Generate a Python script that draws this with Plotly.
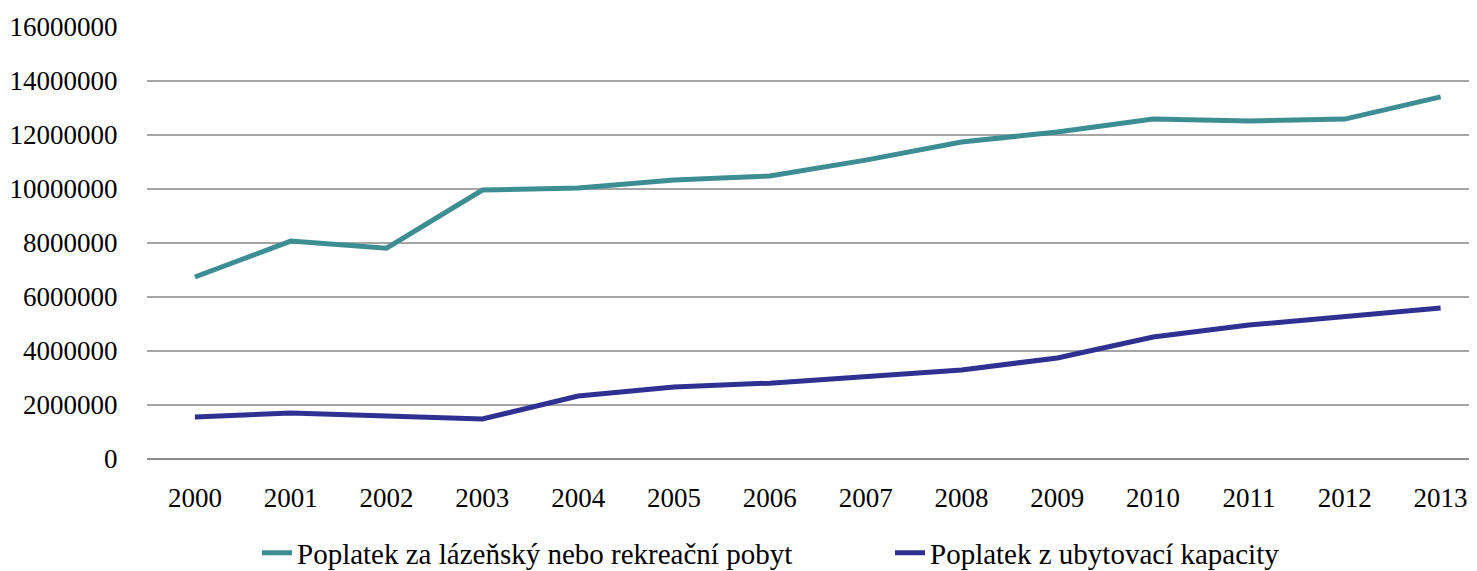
import plotly.graph_objects as go

years = [2000, 2001, 2002, 2003, 2004, 2005, 2006, 2007, 2008, 2009, 2010, 2011, 2012, 2013]
lazensky = [6740000, 8070000, 7810000, 9960000, 10040000, 10330000, 10480000, 11070000,
            11740000, 12110000, 12590000, 12520000, 12590000, 13410000]
ubytovaci = [1560000, 1700000, 1590000, 1480000, 2330000, 2670000, 2810000, 3040000,
             3300000, 3740000, 4520000, 4960000, 5260000, 5590000]
y_ticks = [0, 2000000, 4000000, 6000000, 8000000, 10000000, 12000000, 14000000, 16000000]
name1 = "Poplatek za lázeňský nebo rekreační pobyt"
name2 = "Poplatek z ubytovací kapacity"

font = "Liberation Serif"
fs = 27
W, H = 1469, 563

fig = go.Figure()
fig.add_trace(go.Scatter(x=years, y=lazensky, mode="lines", name=name1, legend="legend",
                         line=dict(color="#3d8e93", width=5)))
fig.add_trace(go.Scatter(x=years, y=ubytovaci, mode="lines", name=name2, legend="legend2",
                         line=dict(color="#2e3192", width=5)))

leg_common = dict(orientation="h", xref="container", yref="container",
                  xanchor="left", yanchor="middle", y=18 / H,
                  font=dict(family=font, size=29, color="black"),
                  bgcolor="rgba(0,0,0,0)", itemclick=False, itemdoubleclick=False)

fig.update_layout(
    width=W, height=H,
    margin=dict(l=139, r=0, t=19, b=112, autoexpand=False),
    paper_bgcolor="white", plot_bgcolor="white",
    font=dict(family=font, size=fs, color="black"),
    showlegend=True,
    legend=dict(x=249 / W, **leg_common),
    legend2=dict(x=882 / W, **leg_common),
)
fig.update_xaxes(
    range=[1999.5, 2013.38], tickmode="array", tickvals=years,
    ticktext=[str(y) for y in years],
    showgrid=False, zeroline=False, showline=False,
    ticks="outside", ticklen=15, tickcolor="rgba(0,0,0,0)",
    tickfont=dict(family=font, size=fs),
)
fig.update_yaxes(
    range=[0, 16000000], tickmode="array", tickvals=y_ticks,
    ticktext=[str(v) for v in y_ticks],
    showgrid=True, gridcolor="#a6a6a6", gridwidth=2,
    zeroline=True, zerolinecolor="#8c8c8c", zerolinewidth=2,
    showline=False,
    ticks="outside", ticklen=23, tickcolor="rgba(0,0,0,0)",
    tickfont=dict(family=font, size=fs),
)

fig.write_html("out.html")
